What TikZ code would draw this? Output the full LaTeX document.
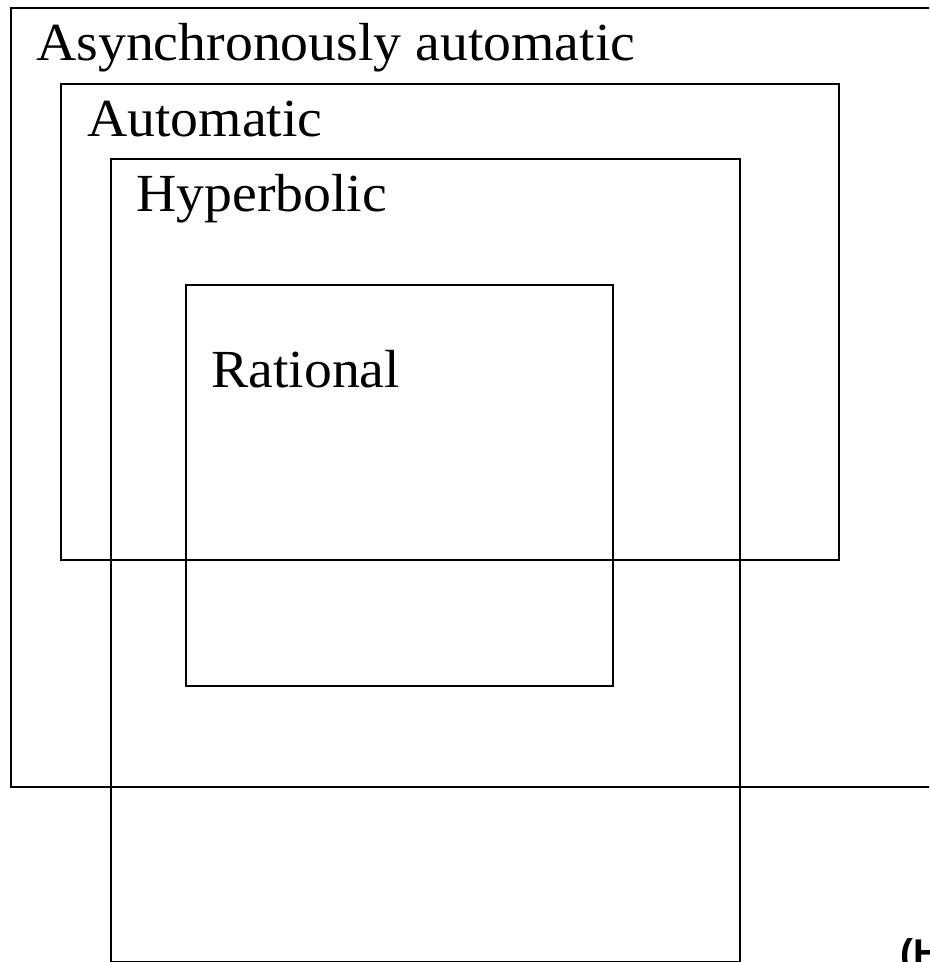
\documentclass[tikz,border=0pt]{standalone}
\usepackage{fontspec}
\setmainfont[FakeStretch=1.04]{Liberation Serif}
\setsansfont{Liberation Sans}

\tikzset{
    setbox/.style={line width=1.5pt, black},
    setlabel/.style={anchor=base west, inner sep=0pt, font=\fontsize{30.5}{36}\selectfont}
}

\begin{document}
\begin{tikzpicture}[x=0.02cm, y=-0.02cm]
    % 1. Page frame
    \useasboundingbox (0,0) rectangle (929,962);
    \clip (0,0) rectangle (929,962);

    % 2. Corners of the nested classes
    \coordinate (asyncNW) at (11,8);
    \coordinate (asyncSE) at (980,787);
    \coordinate (autoNW) at (61,84);
    \coordinate (autoSE) at (839,560);
    \coordinate (hypNW) at (111,159);
    \coordinate (hypSE) at (740,962);
    \coordinate (ratNW) at (186,285);
    \coordinate (ratSE) at (613,686);

    % 3. The boxes
    \draw[setbox] (asyncNW) rectangle (asyncSE);
    \draw[setbox] (autoNW) rectangle (autoSE);
    \draw[setbox] (hypNW) rectangle (hypSE);
    \draw[setbox] (ratNW) rectangle (ratSE);

    % 4. Class names
    \node[setlabel] (async) at (36,61) {Asynchronously automatic};
    \node[setlabel] (auto) at (87,137) {Automatic};
    \node[setlabel] (hyp) at (136,212) {Hyperbolic};
    \node[setlabel] (rat) at (211,387) {Rational};

    % 5. Cut-off caption at the corner
    \node[anchor=base west, inner sep=0pt, font=\sffamily\bfseries\fontsize{22}{26}\selectfont] (caption) at (900,966) {(H};

\end{tikzpicture}
\end{document}
